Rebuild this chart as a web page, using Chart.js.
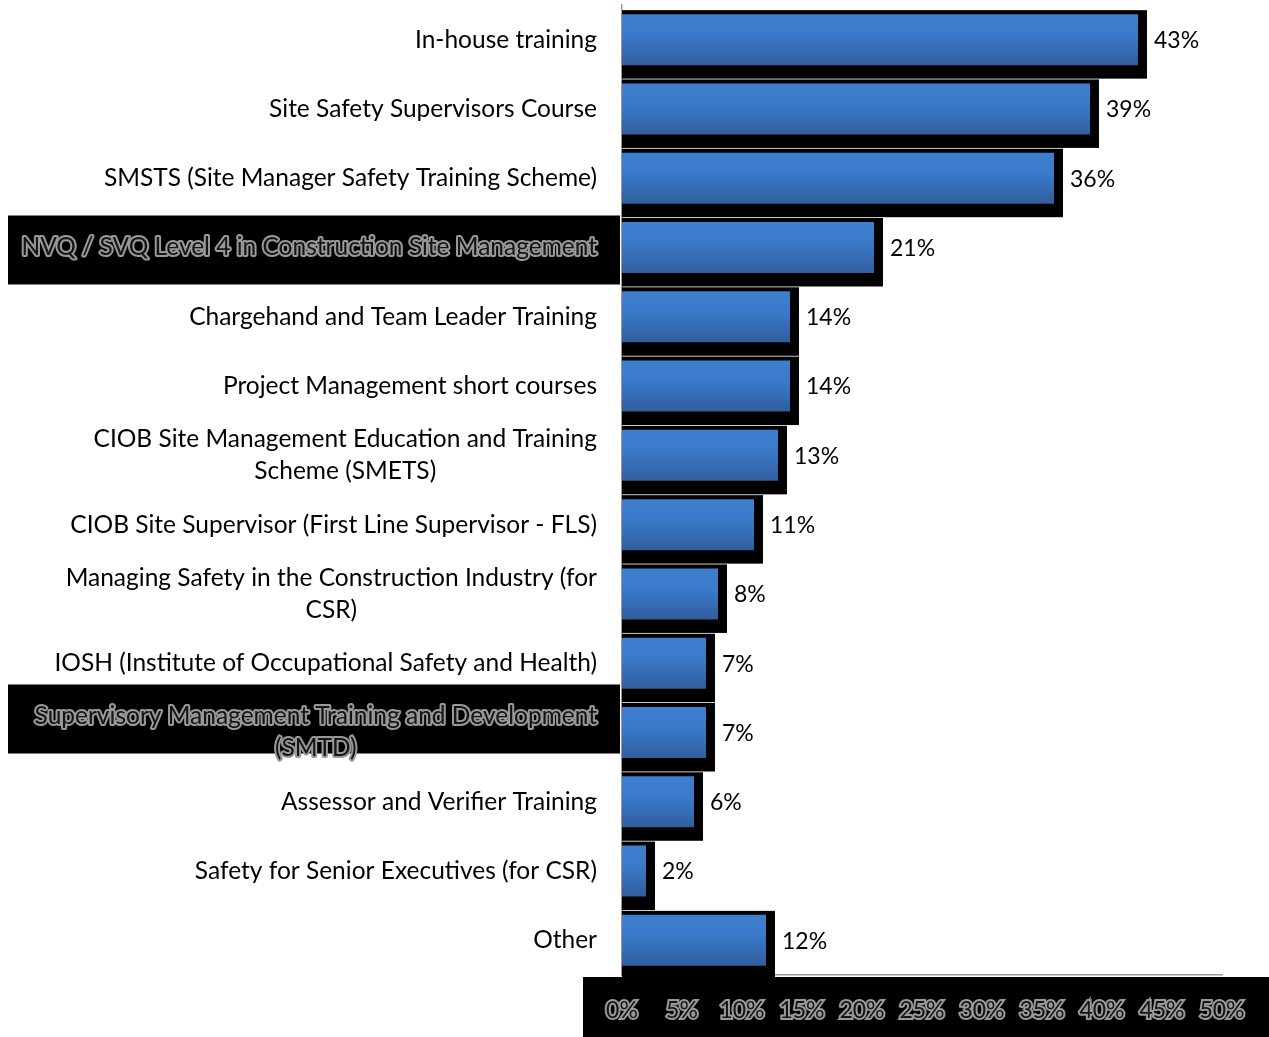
<!DOCTYPE html>
<html>
<head>
<meta charset="utf-8">
<script src="https://cdn.jsdelivr.net/npm/chart.js@4"></script>
<style>
  html, body { margin: 0; padding: 0; background: #fff; }
  #wrap { width: 1269px; height: 1037px; }
</style>
</head>
<body>
<div id="wrap"><canvas id="chart"></canvas></div>
<script>
var categories = [
    'In-house training',
    'Site Safety Supervisors Course',
    'SMSTS (Site Manager Safety Training Scheme)',
    'NVQ / SVQ Level 4 in Construction Site Management',
    'Chargehand and Team Leader Training',
    'Project Management short courses',
    ['CIOB Site Management Education and Training', 'Scheme (SMETS)'],
    'CIOB Site Supervisor (First Line Supervisor - FLS)',
    ['Managing Safety in the Construction Industry (for', 'CSR)'],
    'IOSH (Institute of Occupational Safety and Health)',
    ['Supervisory Management Training and Development', '(SMTD)'],
    'Assessor and Verifier Training',
    'Safety for Senior Executives (for CSR)',
    'Other'
];
var percentages = [43, 39, 36, 21, 14, 14, 13, 11, 8, 7, 7, 6, 2, 12];
var highlighted = [3, 10];
var axis_max = 50;
var axis_step = 5;

var font_family = 'Lato, "Open Sans", sans-serif';
var label_size = 24.5;
var value_size = 23;
var bar_fraction = 0.736;

function bar_gradient(c) {
    var chart = c.chart;
    var y_scale = chart.scales.y;
    if (!y_scale || !chart.chartArea) return '#3b7aca';
    var cy = y_scale.getPixelForValue(c.dataIndex);
    var half = y_scale.height / categories.length * bar_fraction / 2;
    var g = chart.ctx.createLinearGradient(0, cy - half, 0, cy + half);
    g.addColorStop(0, '#3d7fce');
    g.addColorStop(0.4, '#3b7aca');
    g.addColorStop(1, '#2f5e9c');
    return g;
}

// black block behind each bar, labels on the left, value labels
var bar_decor = {
    id: 'bar_decor',
    beforeDraw: function (chart) {
        var ctx = chart.ctx;
        var x_scale = chart.scales.x;
        var y_scale = chart.scales.y;
        ctx.save();
        ctx.fillStyle = '#000';
        // tick strip at the bottom
        ctx.fillRect(x_scale.left - 39, x_scale.top + 2, chart.width, chart.height);
        // highlighted category boxes
        highlighted.forEach(function (i) {
            var lines = [].concat(categories[i]);
            var cy = y_scale.getPixelForValue(i);
            var first = cy - (lines.length - 1) * 16;
            ctx.fillRect(8, first - 32, chart.chartArea.left - 10, 69);
        });
        ctx.restore();
    },
    beforeDatasetsDraw: function (chart) {
        var ctx = chart.ctx;
        var meta = chart.getDatasetMeta(0);
        ctx.save();
        ctx.fillStyle = '#000';
        meta.data.forEach(function (bar) {
            var top = bar.y - bar.height / 2;
            ctx.fillRect(bar.base, top - 4, bar.x + 9 - bar.base, bar.height + 17.5);
        });
        ctx.restore();
    },
    afterDatasetsDraw: function (chart) {
        var ctx = chart.ctx;
        var meta = chart.getDatasetMeta(0);
        var y_scale = chart.scales.y;
        var right = chart.chartArea.left - 25;
        ctx.save();
        ctx.textBaseline = 'middle';

        // value labels
        ctx.font = value_size + 'px ' + font_family;
        ctx.fillStyle = '#000';
        ctx.textAlign = 'left';
        meta.data.forEach(function (bar, i) {
            ctx.fillText(percentages[i] + '%', bar.x + 16, bar.y + 1);
        });

        // category labels
        ctx.font = label_size + 'px ' + font_family;
        categories.forEach(function (label, i) {
            var lines = [].concat(label);
            var cy = y_scale.getPixelForValue(i);
            var widest = 0;
            lines.forEach(function (l) { widest = Math.max(widest, ctx.measureText(l).width); });
            var mid = right - widest / 2;
            var hl = highlighted.indexOf(i) >= 0;
            ctx.textAlign = 'center';
            lines.forEach(function (l, k) {
                var ly = cy + (k - (lines.length - 1) / 2) * 32;
                if (hl) {
                    ctx.lineWidth = 4;
                    ctx.strokeStyle = '#999';
                    ctx.lineJoin = 'round';
                    ctx.strokeText(l, mid, ly);
                    ctx.fillStyle = '#151515';
                } else {
                    ctx.fillStyle = '#000';
                }
                ctx.fillText(l, mid, ly);
            });
        });
        ctx.restore();
    }
};

new Chart(document.getElementById('chart'), {
    type: 'bar',
    data: {
        labels: categories,
        datasets: [{
            data: percentages,
            backgroundColor: bar_gradient,
            borderWidth: 0,
            categoryPercentage: 1,
            barPercentage: bar_fraction
        }]
    },
    options: {
        indexAxis: 'y',
        responsive: true,
        maintainAspectRatio: false,
        animation: false,
        layout: {
            padding: { left: 622, right: 47, top: 5, bottom: 0 }
        },
        scales: {
            x: {
                min: 0,
                max: axis_max,
                grid: { display: false, drawTicks: false },
                border: { display: true, color: '#9a9a9a', width: 1.5 },
                afterFit: function (s) { s.height = 62; },
                ticks: {
                    stepSize: axis_step,
                    padding: 22,
                    color: '#151515',
                    textStrokeColor: '#999',
                    textStrokeWidth: 4,
                    font: { family: font_family, size: value_size },
                    callback: function (v) { return v + '%'; }
                }
            },
            y: {
                grid: { display: false, drawTicks: false },
                border: { display: true, color: '#9a9a9a', width: 1.5 },
                ticks: { display: false },
                afterFit: function (s) { s.width = 0; }
            }
        },
        plugins: {
            legend: { display: false },
            tooltip: { enabled: false }
        }
    },
    plugins: [bar_decor]
});
</script>
</body>
</html>
